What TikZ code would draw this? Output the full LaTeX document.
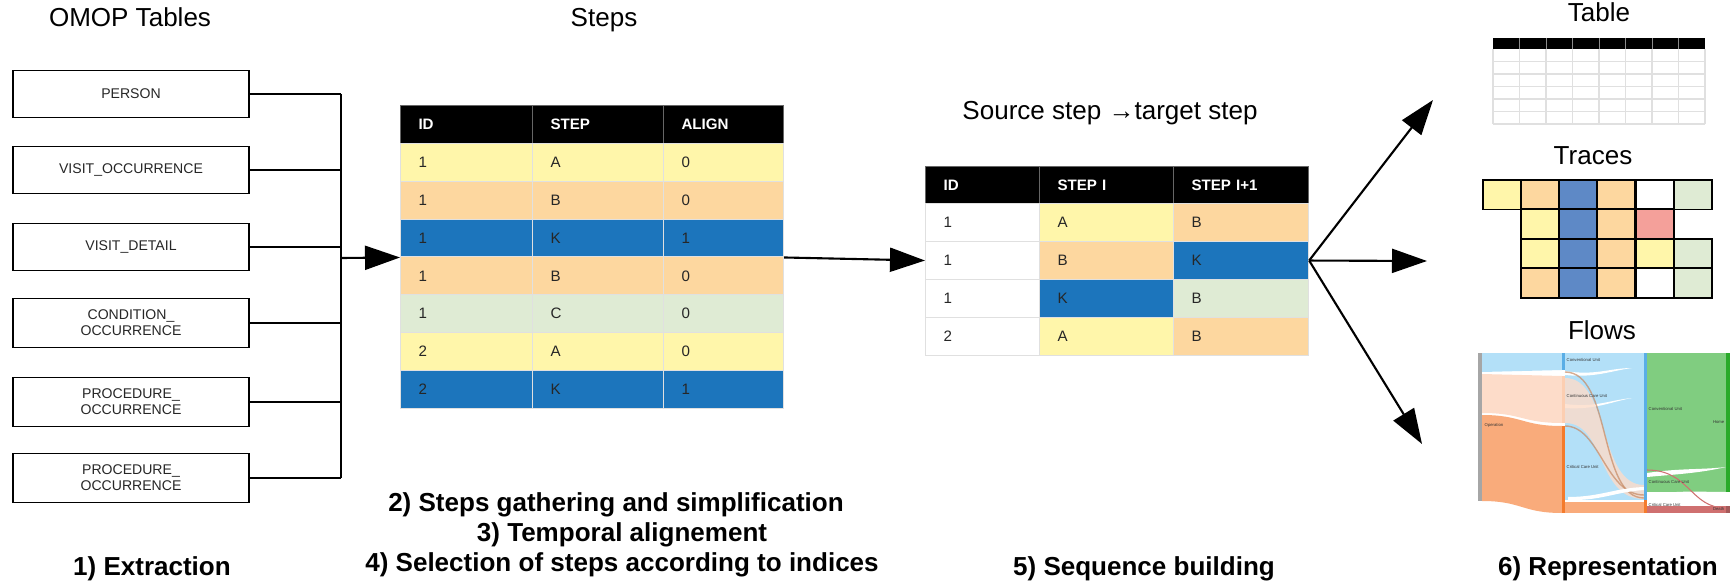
\documentclass[tikz,border=0pt]{standalone}
\usepackage{fontspec}
\setmainfont{Liberation Sans}
\usetikzlibrary{arrows.meta}

\definecolor{stepyellow}{HTML}{FFF6AA}
\definecolor{steporange}{HTML}{FDD79F}
\definecolor{stepblue}{HTML}{1C75BC}
\definecolor{stepgreen}{HTML}{DFEBD4}
\definecolor{traceblue}{HTML}{5E89C6}
\definecolor{tracered}{HTML}{F4A09A}
\definecolor{sky}{HTML}{B3E0F8}
\definecolor{skybar}{HTML}{5AAEE6}
\definecolor{peach}{HTML}{FDDCC9}
\definecolor{flowrange}{HTML}{F9AB7B}
\definecolor{orangebar}{HTML}{F47B2C}
\definecolor{leaf}{HTML}{80CD80}
\definecolor{leafbar}{HTML}{2AAA2A}
\definecolor{deathred}{HTML}{CF7070}

\tikzset{
  omop/.style={draw, line width=0.4pt, minimum width=2.36cm, minimum height=0.47cm, align=center, font=\fontsize{4}{4.6}\selectfont, text=black!85},
  title/.style={anchor=base, font=\fontsize{7.4}{9}\selectfont},
  stage/.style={anchor=base, font=\fontsize{7.4}{9}\selectfont\bfseries},
  cell/.style={anchor=north west, minimum height=0.378cm, inner xsep=0.18cm, inner ysep=0pt, align=left, draw=black!12, line width=0.3pt, font=\fontsize{4.3}{5}\selectfont, text=black!85},
  head/.style={cell, minimum height=0.38cm, fill=black, draw=black!60, text=white, font=\fontsize{4.3}{5}\selectfont\bfseries},
  wida/.style={text width=0.96cm}, widb/.style={text width=0.95cm}, widc/.style={text width=0.84cm},
  widd/.style={text width=0.78cm}, wide/.style={text width=0.98cm}, widf/.style={text width=0.99cm},
  trace/.style={draw, line width=0.5pt, minimum width=0.38cm, minimum height=0.295cm, anchor=north west, inner sep=0pt},
  link/.style={line width=0.4pt},
  bigarrow/.style={line width=0.6pt, -{Triangle[length=0.35cm, width=0.24cm]}},
  tiny/.style={font=\fontsize{1.2}{1.4}\selectfont, inner sep=0pt, text=black!80}
}

\begin{document}
\begin{tikzpicture}[x=0.01cm, y=-0.01cm]
	\useasboundingbox (0,0) rectangle (1730,582);

	% titles
	\node[title] (omop) at (130,27) {OMOP Tables};
	\node[title] (steps) at (604,27) {Steps};
	\node[title] (pairs) at (1110,120) {Source step →target step};
	\node[title] (tabtitle) at (1599,22) {Table};
	\node[title] (tratitle) at (1593,165) {Traces};
	\node[title] (flotitle) at (1602,339) {Flows};

	% 1) extraction
	\node[omop] (person) at (131,94) {PERSON};
	\node[omop] (visitocc) at (131,170) {VISIT\_OCCURRENCE};
	\node[omop] (visitdet) at (131,247) {VISIT\_DETAIL};
	\node[omop] (condocc) at (131,323) {CONDITION\_\\OCCURRENCE};
	\node[omop] (prococc1) at (131,402) {PROCEDURE\_\\OCCURRENCE};
	\node[omop] (prococc2) at (131,478) {PROCEDURE\_\\OCCURRENCE};

	\coordinate (bus) at (341,258);
	\draw[link] (person.east) -- (person.east -| bus);
	\draw[link] (visitocc.east) -- (visitocc.east -| bus);
	\draw[link] (visitdet.east) -- (visitdet.east -| bus);
	\draw[link] (condocc.east) -- (condocc.east -| bus);
	\draw[link] (prococc1.east) -- (prococc1.east -| bus);
	\draw[link] (prococc2.east) -- (prococc2.east -| bus);
	\draw[link] (person.east -| bus) -- (prococc2.east -| bus);

	% 2) 3) 4) steps table
	\node[head, wida] (st-h1) at (400,105) {ID};
	\node[head, widb] (st-h2) at (532,105) {STEP};
	\node[head, widc] (st-h3) at (663,105) {ALIGN};

	\node[cell, wida, fill=stepyellow] (st-1a) at (400,143) {1};
	\node[cell, widb, fill=stepyellow] (st-1b) at (532,143) {A};
	\node[cell, widc, fill=stepyellow] (st-1c) at (663,143) {0};

	\node[cell, wida, fill=steporange] (st-2a) at (400,180.8) {1};
	\node[cell, widb, fill=steporange] (st-2b) at (532,180.8) {B};
	\node[cell, widc, fill=steporange] (st-2c) at (663,180.8) {0};

	\node[cell, wida, fill=stepblue] (st-3a) at (400,218.6) {1};
	\node[cell, widb, fill=stepblue] (st-3b) at (532,218.6) {K};
	\node[cell, widc, fill=stepblue] (st-3c) at (663,218.6) {1};

	\node[cell, wida, fill=steporange] (st-4a) at (400,256.4) {1};
	\node[cell, widb, fill=steporange] (st-4b) at (532,256.4) {B};
	\node[cell, widc, fill=steporange] (st-4c) at (663,256.4) {0};

	\node[cell, wida, fill=stepgreen] (st-5a) at (400,294.2) {1};
	\node[cell, widb, fill=stepgreen] (st-5b) at (532,294.2) {C};
	\node[cell, widc, fill=stepgreen] (st-5c) at (663,294.2) {0};

	\node[cell, wida, fill=stepyellow] (st-6a) at (400,332) {2};
	\node[cell, widb, fill=stepyellow] (st-6b) at (532,332) {A};
	\node[cell, widc, fill=stepyellow] (st-6c) at (663,332) {0};

	\node[cell, wida, fill=stepblue] (st-7a) at (400,369.8) {2};
	\node[cell, widb, fill=stepblue] (st-7b) at (532,369.8) {K};
	\node[cell, widc, fill=stepblue] (st-7c) at (663,369.8) {1};

	\draw[bigarrow] (bus) -- (st-3a.south west);

	% 5) sequence table
	\node[head, widd] (sq-h1) at (925,166) {ID};
	\node[head, wide] (sq-h2) at (1039,166) {STEP I};
	\node[head, widf] (sq-h3) at (1173,166) {STEP I+1};

	\node[cell, widd, minimum height=0.38cm, fill=white] (sq-1a) at (925,203) {1};
	\node[cell, wide, minimum height=0.38cm, fill=stepyellow] (sq-1b) at (1039,203) {A};
	\node[cell, widf, minimum height=0.38cm, fill=steporange] (sq-1c) at (1173,203) {B};

	\node[cell, widd, minimum height=0.38cm, fill=white] (sq-2a) at (925,241) {1};
	\node[cell, wide, minimum height=0.38cm, fill=steporange] (sq-2b) at (1039,241) {B};
	\node[cell, widf, minimum height=0.38cm, fill=stepblue] (sq-2c) at (1173,241) {K};

	\node[cell, widd, minimum height=0.38cm, fill=white] (sq-3a) at (925,279) {1};
	\node[cell, wide, minimum height=0.38cm, fill=stepblue] (sq-3b) at (1039,279) {K};
	\node[cell, widf, minimum height=0.38cm, fill=stepgreen] (sq-3c) at (1173,279) {B};

	\node[cell, widd, minimum height=0.38cm, fill=white] (sq-4a) at (925,317) {2};
	\node[cell, wide, minimum height=0.38cm, fill=stepyellow] (sq-4b) at (1039,317) {A};
	\node[cell, widf, minimum height=0.38cm, fill=steporange] (sq-4c) at (1173,317) {B};

	\draw[bigarrow] (st-3c.south east) -- (sq-2a.west);

	% 6) representation
	\coordinate (to-table) at (1433,100);
	\coordinate (to-traces) at (1427,261);
	\coordinate (to-flows) at (1422,444);
	\draw[bigarrow] (sq-2c.east) -- (to-table);
	\draw[bigarrow] (sq-2c.east) -- (to-traces);
	\draw[bigarrow] (sq-2c.east) -- (to-flows);

	% table icon
	\foreach \i in {0,...,8} \draw[black!12, line width=0.3pt] (1493+26.5*\i,49) -- (1493+26.5*\i,124);
	\foreach \j in {1,...,6} \draw[black!12, line width=0.3pt] (1493,49+12.5*\j) -- (1705,49+12.5*\j);
	\fill[black] (1493,38) rectangle (1705,49);
	\foreach \i in {1,...,7} \draw[black!45, line width=0.2pt] (1493+26.5*\i,38) -- (1493+26.5*\i,49);

	% traces
	\node[trace, fill=stepyellow] (tr-11) at (1482,179) {};
	\node[trace, fill=steporange] (tr-12) at (1520,179) {};
	\node[trace, fill=traceblue] (tr-13) at (1558,179) {};
	\node[trace, fill=steporange] (tr-14) at (1596,179) {};
	\node[trace, fill=white] (tr-15) at (1635,179) {};
	\node[trace, fill=stepgreen] (tr-16) at (1673,179) {};

	\node[trace, fill=stepyellow] (tr-22) at (1520,208.5) {};
	\node[trace, fill=traceblue] (tr-23) at (1558,208.5) {};
	\node[trace, fill=steporange] (tr-24) at (1596,208.5) {};
	\node[trace, fill=tracered] (tr-25) at (1635,208.5) {};

	\node[trace, fill=stepyellow] (tr-32) at (1520,238) {};
	\node[trace, fill=traceblue] (tr-33) at (1558,238) {};
	\node[trace, fill=steporange] (tr-34) at (1596,238) {};
	\node[trace, fill=stepyellow] (tr-35) at (1635,238) {};
	\node[trace, fill=stepgreen] (tr-36) at (1673,238) {};

	\node[trace, fill=steporange] (tr-42) at (1520,267.5) {};
	\node[trace, fill=traceblue] (tr-43) at (1558,267.5) {};
	\node[trace, fill=steporange] (tr-44) at (1596,267.5) {};
	\node[trace, fill=white] (tr-45) at (1635,267.5) {};
	\node[trace, fill=stepgreen] (tr-46) at (1673,267.5) {};

	% flows
	\fill[black!35] (1478,353) rectangle (1482,501);
	\fill[sky] (1482,353) -- (1562,353) -- (1562,370) .. controls (1522,370) and (1522,372) .. (1482,372) -- cycle;
	\fill[peach] (1482,374) .. controls (1522,374) and (1522,376) .. (1562,376) -- (1562,423) .. controls (1522,423) and (1522,413) .. (1482,413) -- cycle;
	\fill[flowrange] (1482,415) .. controls (1522,415) and (1522,426) .. (1562,426) -- (1562,513) .. controls (1522,513) and (1522,501) .. (1482,501) -- cycle;
	\fill[skybar] (1562,353) rectangle (1565,370);
	\fill[peach!85!orangebar] (1562,376) rectangle (1565,423);
	\fill[orangebar] (1562,426) rectangle (1565,513);
	\fill[sky] (1565,353) rectangle (1644,500);
	\fill[white] (1565,371) .. controls (1595,376) and (1610,368) .. (1632,368) .. controls (1610,371) and (1595,378) .. (1565,375) -- cycle;
	\fill[white] (1565,404) .. controls (1595,408) and (1610,400) .. (1632,398) .. controls (1610,402) and (1595,410) .. (1565,408) -- cycle;
	\fill[peach, opacity=0.8] (1565,378) .. controls (1610,378) and (1598,485) .. (1644,485) -- (1644,499) .. controls (1596,499) and (1606,423) .. (1565,423) -- cycle;
	\draw[flowrange!80!black, line width=0.4pt, opacity=0.7] (1565,372) .. controls (1612,372) and (1598,498) .. (1644,498);
	\draw[flowrange!80!black, line width=0.4pt, opacity=0.7] (1565,426) .. controls (1600,426) and (1605,495) .. (1644,495);
	\fill[white] (1568,497) .. controls (1600,497) and (1615,488) .. (1644,487) -- (1644,490) .. controls (1615,492) and (1600,501) .. (1568,500) -- cycle;
	\fill[flowrange] (1565,502) rectangle (1644,513);
	\fill[skybar] (1644,353) rectangle (1647,500);
	\fill[orangebar] (1644,500) rectangle (1647,513);
	\fill[leaf] (1647,353) rectangle (1726,492);
	\fill[white] (1647,473) .. controls (1680,468) and (1700,470) .. (1726,467) .. controls (1700,473) and (1680,474) .. (1647,477) -- cycle;
	\fill[white] (1647,495) .. controls (1680,490) and (1700,492) .. (1726,492) -- (1726,496) .. controls (1700,496) and (1680,498) .. (1647,499) -- cycle;
	\draw[deathred, line width=0.3pt] (1647,470) .. controls (1690,470) and (1690,508) .. (1726,508);
	\fill[deathred] (1647,506) rectangle (1726,513);
	\fill[leafbar] (1726,353) rectangle (1730,492);
	\fill[deathred!80!black] (1726,506) rectangle (1730,513);

	\node[tiny, anchor=west] (fl-op) at (1484,425) {Operation};
	\node[tiny, anchor=west] (fl-cu1) at (1566,360) {Conventional Unit};
	\node[tiny, anchor=west] (fl-ccu1) at (1566,396) {Continuous Care Unit};
	\node[tiny, anchor=west] (fl-icu1) at (1566,467) {Critical Care Unit};
	\node[tiny, anchor=west] (fl-cu2) at (1648,409) {Conventional Unit};
	\node[tiny, anchor=west] (fl-ccu2) at (1648,482) {Continuous Care Unit};
	\node[tiny, anchor=west] (fl-icu2) at (1648,505) {Critical Care Unit};
	\node[tiny, anchor=east] (fl-home) at (1725,422) {Home};
	\node[tiny, anchor=east] (fl-death) at (1725,509) {Death};

	% stage labels
	\node[stage] (stage1) at (152,575) {1) Extraction};
	\node[stage] (stage2) at (616,511) {2) Steps gathering and simplification};
	\node[stage] (stage3) at (622,541) {3) Temporal alignement};
	\node[stage] (stage4) at (622,571) {4) Selection of steps according to indices};
	\node[stage] (stage5) at (1144,575) {5) Sequence building};
	\node[stage] (stage6) at (1608,575) {6) Representation};
\end{tikzpicture}
\end{document}
